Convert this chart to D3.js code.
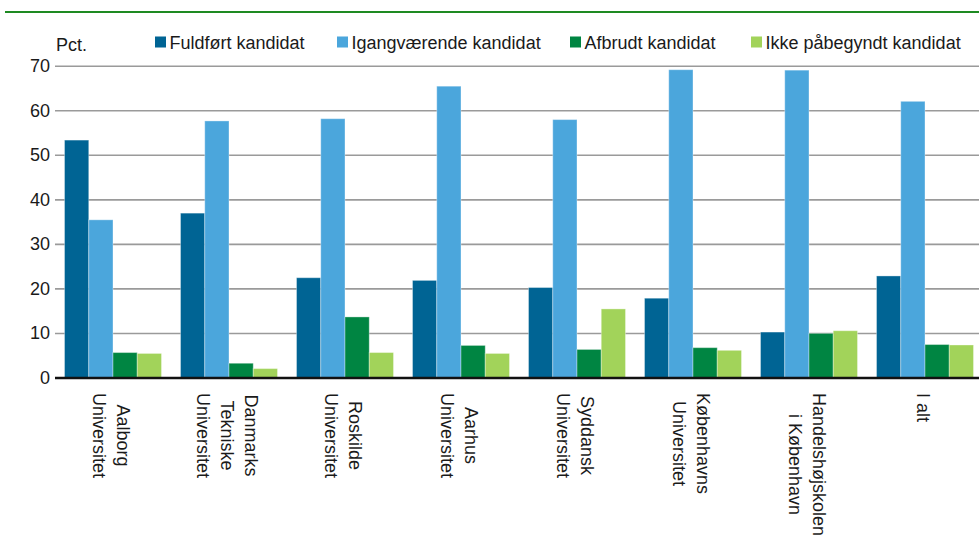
<!DOCTYPE html>
<html>
<head>
<meta charset="utf-8">
<script src="https://cdn.jsdelivr.net/npm/d3@7"></script>
<style>
  body { margin: 0; background: #fff; }
  svg { display: block; font-family: "Liberation Sans", Arial, sans-serif; }
</style>
</head>
<body>
<svg id="chart" width="979" height="539"></svg>
<script>
"use strict";
// Universities (labels may have several lines)
var categories = [
    ["Aalborg", "Universitet"],
    ["Danmarks", "Tekniske", "Universitet"],
    ["Roskilde", "Universitet"],
    ["Aarhus", "Universitet"],
    ["Syddansk", "Universitet"],
    ["Københavns", "Universitet"],
    ["Handelshøjskolen", "i København"],
    ["I alt"]
];
var seriesNames = ["Fuldført kandidat", "Igangværende kandidat", "Afbrudt kandidat", "Ikke påbegyndt kandidat"];
var seriesColors = ["#006494", "#4ba6dc", "#008542", "#a2d35a"];
// Pct. values
var fuldfoert = [53.3, 36.9, 22.4, 21.8, 20.2, 17.8, 10.2, 22.8];
var igang = [35.4, 57.6, 58.1, 65.4, 57.9, 69.1, 69.0, 62.0];
var afbrudt = [5.6, 3.2, 13.6, 7.2, 6.3, 6.7, 9.9, 7.4];
var ikkePaabegyndt = [5.4, 2.0, 5.6, 5.4, 15.4, 6.1, 10.5, 7.3];
var yTicks = [0, 10, 20, 30, 40, 50, 60, 70];

var series = [fuldfoert, igang, afbrudt, ikkePaabegyndt];
var svg = d3.select("#chart");

var plotLeft = 55, plotBottom = 377.5, plotTop = 65.7;

var x = d3.scaleBand()
    .domain(d3.range(categories.length))
    .range([plotLeft, 983])
    .paddingInner(0.164)
    .paddingOuter(0.082);
var xInner = d3.scaleBand()
    .domain(d3.range(series.length))
    .range([0, x.bandwidth()]);
var y = d3.scaleLinear().domain([0, 70]).range([plotBottom, plotTop]);

// green rule on top
svg.append("line")
    .attr("x1", 5).attr("x2", 979)
    .attr("y1", 12).attr("y2", 12)
    .style("stroke", "#1e8a22")
    .style("stroke-width", 2);

// gridlines + tick labels
var yAxis = d3.axisLeft(y)
    .tickValues(yTicks)
    .tickSize(-(979 - plotLeft))
    .tickPadding(6);
var gy = svg.append("g")
    .attr("transform", "translate(" + plotLeft + ",0)")
    .call(yAxis);
gy.select(".domain").remove();
gy.selectAll(".tick line")
    .style("stroke", "#9a9a9a")
    .style("stroke-width", 1.6);
gy.selectAll(".tick text")
    .attr("x", -5)
    .style("font-size", "18px")
    .style("fill", "#1a1a1a")
    .style("font-family", "inherit");

// bars
series.forEach(function (vals, s) {
    svg.append("g").selectAll("rect")
        .data(vals)
        .enter().append("rect")
        .attr("x", function (d, i) { return x(i) + xInner(s); })
        .attr("y", function (d) { return y(d); })
        .attr("width", xInner.bandwidth())
        .attr("height", function (d) { return y(0) - y(d); })
        .attr("fill", seriesColors[s])
        .attr("stroke", "rgba(255,255,255,0.35)")
        .attr("stroke-width", 1);
});

// baseline
svg.append("line")
    .attr("x1", plotLeft).attr("x2", 979)
    .attr("y1", y(0) + 0.5).attr("y2", y(0) + 0.5)
    .style("stroke", "#111")
    .style("stroke-width", 2.4);

// category labels, rotated, lines centred in block
categories.forEach(function (lines, i) {
    var cx = x(i) + x.bandwidth() / 2;
    var g = svg.append("g")
        .attr("transform", "translate(" + cx + ",393) rotate(90)");
    var texts = g.selectAll("text")
        .data(lines)
        .enter().append("text")
        .attr("y", function (d, k) { return k * 24 - (lines.length - 1) * 12 + 8; })
        .attr("text-anchor", "middle")
        .style("font-size", "18px")
        .style("fill", "#1a1a1a")
        .text(function (d) { return d; });
    var maxW = 0;
    texts.each(function () { maxW = Math.max(maxW, this.getComputedTextLength()); });
    texts.attr("x", maxW / 2);
});

// unit
svg.append("text")
    .attr("x", 56).attr("y", 51)
    .style("font-size", "18px")
    .style("fill", "#1a1a1a")
    .text("Pct.");

// legend
var legendX = [155, 337, 570, 751];
seriesNames.forEach(function (name, s) {
    svg.append("rect")
        .attr("x", legendX[s]).attr("y", 36.5)
        .attr("width", 11).attr("height", 11)
        .attr("fill", seriesColors[s]);
    svg.append("text")
        .attr("x", legendX[s] + 14.5).attr("y", 48.5)
        .style("font-size", "18px")
        .style("fill", "#1a1a1a")
        .text(name);
});
</script>
</body>
</html>
